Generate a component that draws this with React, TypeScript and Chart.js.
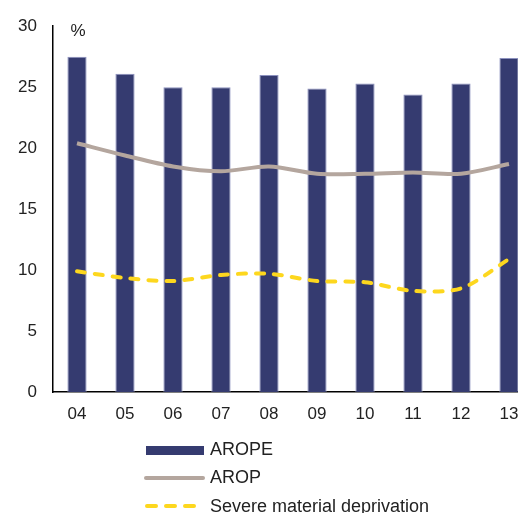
import React, { useEffect, useRef } from "react";
import { Chart, registerables } from "chart.js";

Chart.register(...registerables);

const categories = ["04", "05", "06", "07", "08", "09", "10", "11", "12", "13"];
const aropeValues = [27.5, 26.1, 25.0, 25.0, 26.0, 24.9, 25.3, 24.4, 25.3, 27.4];
const aropValues = [20.4, 19.4, 18.5, 18.1, 18.5, 17.9, 17.9, 18.0, 17.9, 18.7];
const smdValues = [9.9, 9.35, 9.1, 9.6, 9.7, 9.1, 9.0, 8.3, 8.5, 10.9];
const legendLabels = ["AROPE", "AROP", "Severe material deprivation"];
const yUnit = "%";

const BAR = "#353B70";
const AROP_C = "#B4A69E";
const SMD_C = "#FDD71E";
const TEXT = "#222222";
const FONT = "'Liberation Sans', Arial, sans-serif";

export default function App() {
  const ref = useRef<HTMLCanvasElement | null>(null);

  useEffect(() => {
    if (!ref.current) return;
    const extras = {
      id: "extras",
      afterDraw(chart: any) {
        const ctx = chart.ctx;
        ctx.save();
        ctx.fillStyle = TEXT;
        ctx.font = `17px ${FONT}`;
        ctx.textAlign = "center";
        ctx.textBaseline = "middle";
        ctx.fillText(yUnit, 78, 31);

        // legend
        ctx.textAlign = "left";
        ctx.font = `18px ${FONT}`;
        // bar swatch
        ctx.fillStyle = BAR;
        ctx.fillRect(146, 446, 58, 9);
        ctx.fillStyle = TEXT;
        ctx.fillText(legendLabels[0], 210, 450);
        // AROP line
        ctx.strokeStyle = AROP_C;
        ctx.lineWidth = 4;
        ctx.lineCap = "round";
        ctx.beginPath();
        ctx.moveTo(146, 478);
        ctx.lineTo(203, 478);
        ctx.stroke();
        ctx.fillText(legendLabels[1], 210, 478);
        // SMD dashed
        ctx.strokeStyle = SMD_C;
        ctx.setLineDash([9, 10]);
        ctx.beginPath();
        ctx.moveTo(147, 506);
        ctx.lineTo(196, 506);
        ctx.stroke();
        ctx.setLineDash([]);
        ctx.fillText(legendLabels[2], 210, 507);
        ctx.restore();
      },
    };

    const chart = new Chart(ref.current, {
      type: "bar",
      data: {
        labels: categories,
        datasets: [
          {
            type: "line",
            label: legendLabels[2],
            data: smdValues,
            borderColor: SMD_C,
            borderWidth: 4,
            borderDash: [8, 10],
            borderCapStyle: "round",
            tension: 0.3,
            pointRadius: 0,
            fill: false,
            order: 1,
          },
          {
            type: "line",
            label: legendLabels[1],
            data: aropValues,
            borderColor: AROP_C,
            borderWidth: 4,
            tension: 0.3,
            pointRadius: 0,
            fill: false,
            order: 2,
          },
          {
            type: "bar",
            label: legendLabels[0],
            data: aropeValues,
            backgroundColor: BAR,
            borderColor: "#8C91BE",
            borderWidth: 1,
            categoryPercentage: 1,
            barPercentage: 0.4,
            order: 3,
          },
        ],
      },
      options: {
        animation: false,
        responsive: false,
        devicePixelRatio: 1,
        layout: { padding: { top: 24, right: 7, left: 0, bottom: 0 } },
        plugins: { legend: { display: false }, tooltip: { enabled: false } },
        scales: {
          x: {
            offset: true,
            grid: { display: false, drawTicks: false },
            border: { display: true, color: "#000", width: 1.5 },
            ticks: { color: TEXT, font: { size: 17, family: FONT }, padding: 12 },
            afterFit: (s: any) => {
              s.height = 121;
            },
          },
          y: {
            min: 0,
            max: 30,
            grid: { display: false, drawTicks: false },
            border: { display: true, color: "#000", width: 1.5 },
            ticks: { stepSize: 5, color: TEXT, font: { size: 17, family: FONT }, padding: 16 },
            afterFit: (s: any) => {
              s.width = 53;
            },
          },
        },
      },
      plugins: [extras],
    });
    return () => chart.destroy();
  }, []);

  return (
    <div style={{ position: "absolute", left: 0, top: 0, width: 518, height: 513, overflow: "hidden", background: "#fff" }}>
      <canvas ref={ref} width={540} height={513} style={{ display: "block", width: 540, height: 513 }} />
    </div>
  );
}
